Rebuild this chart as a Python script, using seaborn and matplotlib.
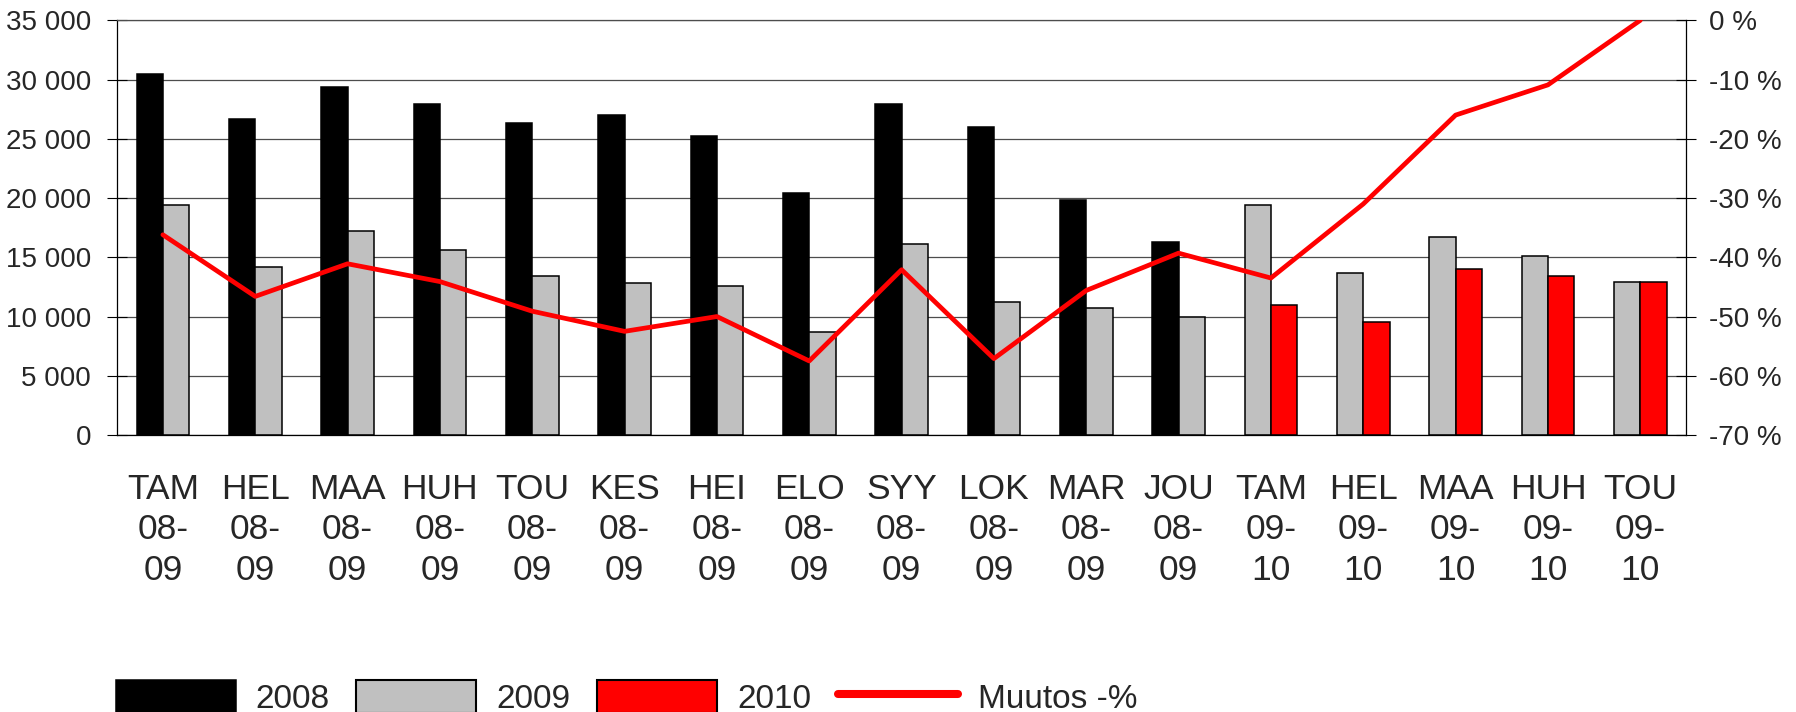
import numpy as np
import pandas as pd
import matplotlib
matplotlib.use("Agg")
import matplotlib.pyplot as plt
from matplotlib.patches import Patch
from matplotlib.lines import Line2D
from matplotlib.ticker import FuncFormatter, MultipleLocator, FixedLocator
import seaborn as sns

# ---- data ----
months  = ["TAM", "HEL", "MAA", "HUH", "TOU", "KES", "HEI", "ELO", "SYY",
           "LOK", "MAR", "JOU", "TAM", "HEL", "MAA", "HUH", "TOU"]
seasons = ["08-\n09"] * 12 + ["09-\n10"] * 5
v2008 = [30500, 26700, 29400, 27900, 26300, 27000, 25200, 20400, 27900,
         26000, 19800, 16300, None, None, None, None, None]
v2009 = [19400, 14200, 17200, 15600, 13400, 12800, 12600, 8700, 16100,
         11200, 10700, 9950, 19400, 13700, 16700, 15100, 12900]
v2010 = [None, None, None, None, None, None, None, None, None,
         None, None, None, 11000, 9500, 14000, 13400, 12900]
change_pct = [-36.2, -46.6, -41.1, -44.1, -49.1, -52.5, -50.0, -57.5, -42.1,
              -57.1, -45.6, -39.3, -43.5, -31.0, -16.0, -10.9, 0.0]

YEAR_COLORS = {"2008": "#000000", "2009": "#c0c0c0", "2010": "#ff0000"}
LINE_COLOR = "#ff0000"

labels = [f"{m}\n{s}" for m, s in zip(months, seasons)]

# each month has two bars: the older year on the left, the newer on the right
rows = []
for i, lab in enumerate(labels):
    present = [(y, v) for y, v in (("2008", v2008[i]), ("2009", v2009[i]),
                                   ("2010", v2010[i])) if v is not None]
    for slot, (y, v) in zip(["left", "right"], present):
        rows.append({"label": lab, "slot": slot, "year": y, "value": v})
df = pd.DataFrame(rows)
year_of = {(r.label, r.slot): r.year for r in df.itertuples()}

sns.set_style("white")
plt.rcParams["font.family"] = ["Liberation Sans", "DejaVu Sans"]

fig, ax = plt.subplots(figsize=(17.96, 7.12), dpi=100)
fig.subplots_adjust(left=0.065, right=0.939, top=0.9715, bottom=0.389)

sns.barplot(data=df, x="label", y="value", hue="slot", hue_order=["left", "right"],
            order=labels, width=0.57, gap=0, dodge=True, errorbar=None,
            palette=["#000000", "#c0c0c0"], edgecolor="black", linewidth=1.1,
            legend=False, ax=ax)

# recolour bars by year
for cont, slot in zip(ax.containers, ["left", "right"]):
    for bar in cont:
        idx = int(round(bar.get_x() + bar.get_width() / 2 + (0.1 if slot == "left" else -0.1)))
        bar.set_facecolor(YEAR_COLORS[year_of[(labels[idx], slot)]])

ax.set_ylim(0, 35000)
ax.yaxis.set_major_locator(MultipleLocator(5000))
ax.yaxis.set_major_formatter(FuncFormatter(lambda v, p: f"{v:,.0f}".replace(",", " ")))
ax.grid(axis="y", color="#4d4d4d", linewidth=0.9)
ax.set_axisbelow(True)
ax.set_xlabel("")
ax.set_ylabel("")

# change line on the right axis
ax2 = ax.twinx()
sns.lineplot(x=np.arange(len(labels)), y=change_pct, sort=False, color=LINE_COLOR,
             linewidth=3.4, ax=ax2)
ax2.set_ylim(-70, 0)
ax2.yaxis.set_major_locator(MultipleLocator(10))
ax2.yaxis.set_major_formatter(FuncFormatter(lambda v, p: f"{int(round(v))} %"))
ax2.set_ylabel("")
ax.set_xlim(-0.5, len(labels) - 0.5)

# ticks
ax.set_xticks(np.arange(len(labels)))
ax.set_xticklabels(labels, fontsize=25.5, linespacing=1.3)
ax.xaxis.set_minor_locator(FixedLocator(np.arange(len(labels) + 1) - 0.5))
ax.tick_params(axis="x", which="major", length=0, pad=27)
ax.tick_params(axis="x", which="minor", direction="inout", length=17, width=0.8, color="black")
ax.tick_params(axis="y", direction="inout", length=14, width=0.8, color="black",
               labelsize=20, pad=11.5, left=True)
ax2.tick_params(axis="y", direction="inout", length=14, width=0.8, color="black",
                labelsize=20, pad=9.2, right=True)

for s in ["left", "bottom"]:
    ax.spines[s].set_color("black")
    ax.spines[s].set_linewidth(0.9)
ax.spines["right"].set_visible(False)
ax.spines["top"].set_color("#4d4d4d")
ax.spines["top"].set_linewidth(0.9)
for s in ["left", "bottom", "top"]:
    ax2.spines[s].set_visible(False)
ax2.spines["right"].set_color("black")
ax2.spines["right"].set_linewidth(0.9)

handles = [Patch(facecolor=YEAR_COLORS["2008"], edgecolor="black", linewidth=1.1),
           Patch(facecolor=YEAR_COLORS["2009"], edgecolor="black", linewidth=1.5),
           Patch(facecolor=YEAR_COLORS["2010"], edgecolor="black", linewidth=1.5),
           Line2D([], [], color=LINE_COLOR, linewidth=5.8)]
fig.legend(handles, ["2008", "2009", "2010", "Muutos -%"], loc="center left",
           bbox_to_anchor=(0.0644, 0.0204), ncol=4, frameon=False, fontsize=24,
           handlelength=3.6, handleheight=1.15, handletextpad=0.6,
           columnspacing=0.8, borderpad=0, borderaxespad=0)

fig.savefig("out.png", dpi=100)
